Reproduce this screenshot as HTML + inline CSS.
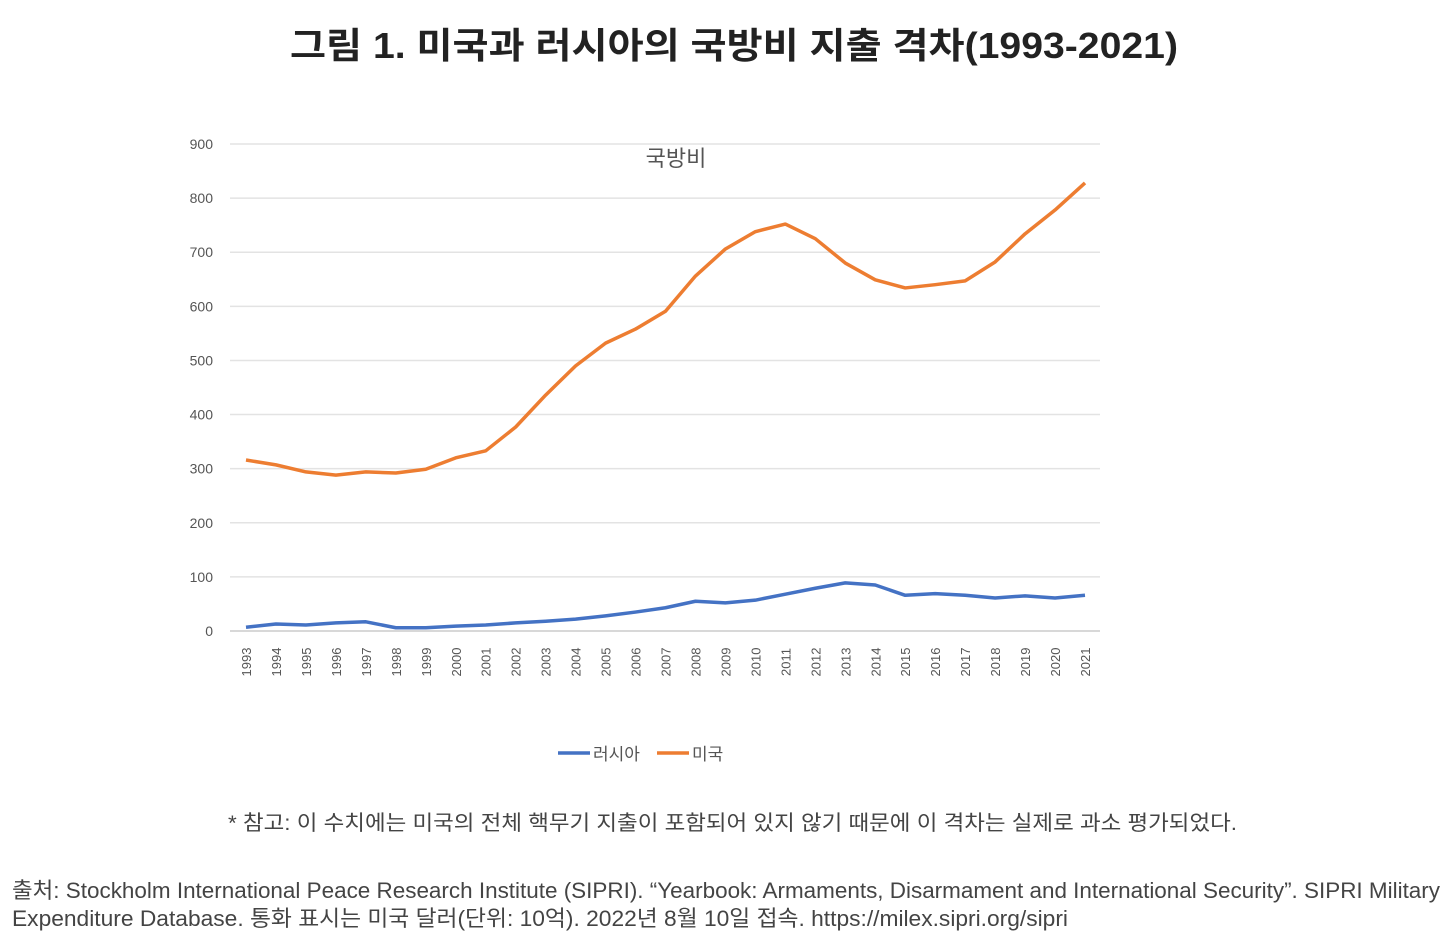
<!DOCTYPE html>
<html><head><meta charset="utf-8"><style>
body{margin:0;background:#fff;width:1454px;height:946px;overflow:hidden;font-family:"Liberation Sans","Noto Sans CJK KR",sans-serif;}
svg text{font-family:"Liberation Sans","Noto Sans CJK KR",sans-serif;}
</style></head><body>
<svg width="1454" height="946">
<text x="290" y="58" textLength="888" lengthAdjust="spacingAndGlyphs" font-size="36" font-weight="bold" fill="#222">그림 1. 미국과 러시아의 국방비 지출 격차(1993-2021)</text>
<text x="676" y="166" text-anchor="middle" font-size="22" fill="#555">국방비</text>
<g id="grid"></g><g id="yt"></g><g id="xt"></g><g id="lines"></g>
<g>
<line x1="558" y1="753" x2="590" y2="753" stroke="#4472c4" stroke-width="3.5"/>
<text x="593" y="760" font-size="17" fill="#555">러시아</text>
<line x1="657" y1="753" x2="689" y2="753" stroke="#ed7d31" stroke-width="3.5"/>
<text x="692" y="760" font-size="17" fill="#555">미국</text>
</g>
<text x="228" y="830" textLength="1009" lengthAdjust="spacingAndGlyphs" font-size="21" fill="#444">* 참고: 이 수치에는 미국의 전체 핵무기 지출이 포함되어 있지 않기 때문에 이 격차는 실제로 과소 평가되었다.</text>
<text x="12" y="898" textLength="1428" lengthAdjust="spacingAndGlyphs" font-size="22" fill="#444">출처: Stockholm International Peace Research Institute (SIPRI). “Yearbook: Armaments, Disarmament and International Security”. SIPRI Military</text>
<text x="12" y="926" textLength="1056" lengthAdjust="spacingAndGlyphs" font-size="22" fill="#444">Expenditure Database. 통화 표시는 미국 달러(단위: 10억). 2022년 8월 10일 접속. https://milex.sipri.org/sipri</text>
</svg>
<script>
const years=[1993,1994,1995,1996,1997,1998,1999,2000,2001,2002,2003,2004,2005,2006,2007,2008,2009,2010,2011,2012,2013,2014,2015,2016,2017,2018,2019,2020,2021];
const usValues=[316,307,294,288,294,292,299,320,333,377,436,490,532,558,591,656,706,738,752,725,680,649,634,640,647,682,734,778,828];
const russiaValues=[7,13,11,15,17,6,6,9,11,15,18,22,28,35,43,55,52,57,68,79,89,85,66,69,66,61,65,61,66];
const yTicks=[0,100,200,300,400,500,600,700,800,900];
const NS="http://www.w3.org/2000/svg";
const x=i=>246+i*(839/28);
const y=v=>631-v*(487/900);
function mk(t,a,p){const e=document.createElementNS(NS,t);for(const k in a)e.setAttribute(k,a[k]);document.getElementById(p).appendChild(e);return e;}
yTicks.forEach(t=>{
 const l=mk('line',{x1:230,x2:1100,y1:y(t),y2:y(t),stroke:t===0?'#ccc':'#e3e3e3','stroke-width':1.5},'grid');
 
 
 const tx=mk('text',{x:213,y:y(t)+5,'text-anchor':'end','font-size':14,fill:'#555'},'yt');
 tx.textContent=t;
 
 
});
years.forEach((yr,i)=>{
 const tx=mk('text',{transform:`translate(${x(i)+5},662) rotate(-90)`,'text-anchor':'middle','font-size':13,fill:'#555'},'xt');
 tx.textContent=yr;
 
 
});
function line(vals,col,name){
 const p=mk('polyline',{points:vals.map((v,i)=>x(i)+','+y(v)).join(' '),fill:'none',stroke:col,'stroke-width':3.5,'stroke-linejoin':'round'},'lines');
 
 
}
line(russiaValues,'#4472c4','russia-line');
line(usValues,'#ed7d31','us-line');
</script>
</body></html>
